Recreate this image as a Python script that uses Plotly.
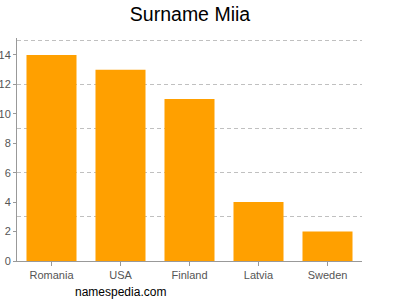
import plotly.graph_objects as go

countries = ["Romania", "USA", "Finland", "Latvia", "Sweden"]
counts = [14, 13, 11, 4, 2]
y_ticks = [0, 2, 4, 6, 8, 10, 12, 14]
grid_vals = [3, 6, 9, 12, 15]

fig = go.Figure()
fig.add_trace(go.Bar(x=countries, y=counts, marker=dict(color="#ffa000", line=dict(width=0)),
                     hoverinfo="skip"))
# invisible trace on the grid axis
fig.add_trace(go.Scatter(x=countries, y=counts, yaxis="y2", mode="markers",
                         marker=dict(opacity=0), showlegend=False, hoverinfo="skip"))

fig.update_layout(
    width=400, height=300,
    margin=dict(l=17, r=38, t=38, b=39),
    paper_bgcolor="white", plot_bgcolor="white",
    showlegend=False,
    bargap=0.275,
    font=dict(family="Liberation Sans, Arial, sans-serif", size=11, color="#555"),
    title=dict(text="Surname Miia", x=0.475, xanchor="center", y=0.952, yanchor="middle",
               font=dict(size=19.5, color="#000")),
    xaxis=dict(showline=True, linecolor="#999", linewidth=1, ticks="outside", ticklen=4,
               tickcolor="#999", showgrid=False, automargin=False,
               tickfont=dict(size=11, color="#555")),
    yaxis=dict(range=[0, 15.15], tickvals=y_ticks, showgrid=False, zeroline=False,
               showline=True, linecolor="#999", linewidth=1, ticks="outside", ticklen=3,
               tickcolor="#999", automargin=False, tickfont=dict(size=11, color="#555")),
    yaxis2=dict(range=[0, 15.15], tickvals=grid_vals, overlaying="y", showticklabels=False,
                showgrid=True, gridcolor="#c0c0c0", griddash="4px,3px", gridwidth=1,
                zeroline=False, showline=False, automargin=False),
    annotations=[dict(text="namespedia.com", xref="paper", yref="paper", x=0.30, y=-0.14,
                      xanchor="center", yanchor="middle", showarrow=False,
                      font=dict(size=12, color="#000"))],
)
fig.write_html("out.html")
